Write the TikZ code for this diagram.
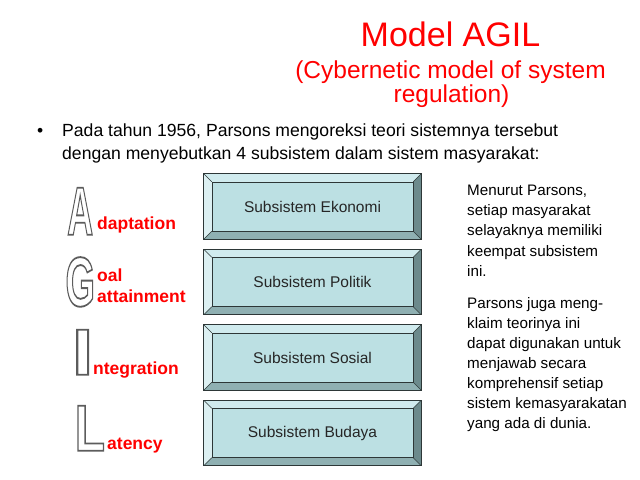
\documentclass[tikz,border=0pt]{standalone}
\usepackage{fontspec}
\setmainfont{Liberation Sans}
\usepackage{graphicx}
\definecolor{bface}{RGB}{188,224,227}
\definecolor{btop}{RGB}{208,235,238}
\definecolor{bleft}{RGB}{220,240,242}
\definecolor{bright}{RGB}{108,138,140}
\definecolor{bbottom}{RGB}{143,176,178}
\definecolor{bedge}{RGB}{45,55,55}
\newcommand{\fsz}[2]{\fontsize{#1bp}{#2bp}\selectfont}
\newcommand{\outl}[1]{{\fsz{64}{70}\bfseries\special{pdf:code q 1 Tr 1.7 w 0.36 G}#1\special{pdf:code Q}}}
\tikzset{
  bevelface/.style={fill=bface, minimum width=217bp, minimum height=65bp, inner sep=0pt, font=\fsz{15.5}{18}, text=black!85},
  redlabel/.style={anchor=base west, inner sep=0pt, text=red, font=\fsz{17.5}{20}\bfseries},
  bodytext/.style={anchor=base west, inner sep=0pt, font=\fsz{17.6}{21}},
  sidetext/.style={anchor=base west, inner sep=0pt, align=left, font=\fsz{15.2}{20}},
  bigletter/.style={anchor=south west, inner sep=0pt},
}
\newcommand{\bevel}[1]{%
  \fill[btop] (#1.north west) -- (#1.north east) -- ([shift={(-8,8)}]#1.north east) -- ([shift={(8,8)}]#1.north west) -- cycle;
  \fill[bleft] (#1.north west) -- (#1.south west) -- ([shift={(8,-8)}]#1.south west) -- ([shift={(8,8)}]#1.north west) -- cycle;
  \fill[bright] (#1.north east) -- (#1.south east) -- ([shift={(-8,-8)}]#1.south east) -- ([shift={(-8,8)}]#1.north east) -- cycle;
  \fill[bbottom] (#1.south west) -- (#1.south east) -- ([shift={(-8,-8)}]#1.south east) -- ([shift={(8,-8)}]#1.south west) -- cycle;
  \draw[bedge, line width=0.8bp] (#1.north west) rectangle (#1.south east);
  \draw[bedge, line width=0.5bp] ([shift={(8,8)}]#1.north west) rectangle ([shift={(-8,-8)}]#1.south east);
  \draw[bedge, line width=0.4bp] (#1.north west) -- ([shift={(8,8)}]#1.north west)
     (#1.north east) -- ([shift={(-8,8)}]#1.north east)
     (#1.south west) -- ([shift={(8,-8)}]#1.south west)
     (#1.south east) -- ([shift={(-8,-8)}]#1.south east);
}
\begin{document}
\begin{tikzpicture}[x=1bp,y=-1bp]
\useasboundingbox (0,0) rectangle (640,480);
% title
\node[anchor=base, inner sep=0pt, text=red, font=\fsz{34}{38}] (title) at (450.5,47) {Model AGIL};
\node[anchor=base, inner sep=0pt, text=red, font=\fsz{24.5}{26}] (sub1) at (450.5,79) {(Cybernetic model of system};
\node[anchor=base, inner sep=0pt, text=red, font=\fsz{24.5}{26}] (sub2) at (451.5,103) {regulation)};
% bullet text
\node[anchor=base west, inner sep=0pt, font=\fsz{17.5}{21}] (bul) at (37,137) {•};
\node[bodytext] (line1) at (62,137) {Pada tahun 1956, Parsons mengoreksi teori sistemnya tersebut};
\node[bodytext] (line2) at (62,160) {dengan menyebutkan 4 subsistem dalam sistem masyarakat:};
% boxes
\node[bevelface] (b1) at (312.5,206.5) {Subsistem Ekonomi};
\bevel{b1}
\node[bevelface] (b2) at (312.5,282) {Subsistem Politik};
\bevel{b2}
\node[bevelface] (b3) at (312.5,357.5) {Subsistem Sosial};
\bevel{b3}
\node[bevelface] (b4) at (312.5,433) {Subsistem Budaya};
\bevel{b4}
% big outlined letters
\node[bigletter] (lA) at (67,235) {\resizebox{26bp}{47bp}{\outl{A}}};
\node[bigletter] (lG) at (65.3,307) {\resizebox{29.6bp}{49bp}{\outl{G}}};
\node[bigletter] (lI) at (72,375) {\resizebox{21bp}{45bp}{\outl{I}}};
\node[bigletter] (lL) at (74.4,451) {\resizebox{30.5bp}{45bp}{\outl{L}}};
% red labels
\node[redlabel] (tA) at (97,230) {daptation};
\node[redlabel] (tG1) at (97,281.5) {oal};
\node[redlabel] (tG2) at (97,302) {attainment};
\node[redlabel] (tI) at (93,374) {ntegration};
\node[redlabel] (tL) at (107,449) {atency};
% side text (anchored at the baseline of the last line)
\node[sidetext] (side1) at (467,276) {Menurut Parsons,\\setiap masyarakat\\selayaknya memiliki\\keempat subsistem\\ini.};
\node[sidetext] (side2) at (467,428) {Parsons juga meng-\\klaim teorinya ini\\dapat digunakan untuk\\menjawab secara\\komprehensif setiap\\sistem kemasyarakatan\\yang ada di dunia.};
\end{tikzpicture}
\end{document}
